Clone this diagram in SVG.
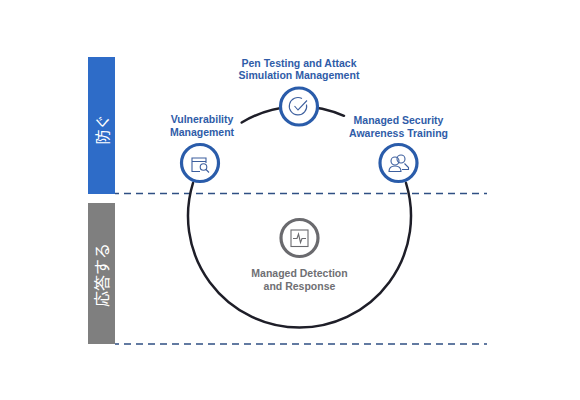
<svg xmlns="http://www.w3.org/2000/svg" width="580" height="400" viewBox="0 0 580 400">
<style>
.lb{font-family:"Liberation Sans",Arial,sans-serif;font-size:10.5px;font-weight:700;fill:#2f5ca8;text-anchor:middle}
.gr{fill:#6f6f73}
.ring{fill:#fff;stroke:#2a5caa;stroke-width:3.2}
.ic{fill:none;stroke:#3d5f9e;stroke-width:1.1}
.ig{fill:none;stroke:#6a6a6e;stroke-width:1.1}
.dash{fill:none;stroke:#2f4f83;stroke-width:1.5;stroke-dasharray:7 5;stroke-dashoffset:3}
.arc{fill:none;stroke:#1e1e28;stroke-width:2.5;stroke-linecap:round}
.side{font-family:"Noto Sans CJK JP","Liberation Sans",sans-serif;fill:#fff;text-anchor:middle}
</style>
<rect width="580" height="400" fill="#fff"/>
<g id="band-prevent"><rect x="88" y="57" width="27" height="137" fill="#2e6cc8"/>
<text class="side" font-size="15" transform="translate(102 129.500) rotate(-90)" y="5.500">防ぐ</text></g>
<g id="band-respond"><rect x="88" y="203" width="27" height="141" fill="#7f7f7f"/>
<text class="side" font-size="16" transform="translate(102 275) rotate(-90)" y="5.500">応答する</text></g>
<g id="connectors">
<path class="dash" d="M115 193.500H487"/>
<path class="dash" d="M115 344H487"/>
<path class="arc" d="M241.700 122.500A111.500 111.500 0 0 1 344 115.800"/>
<path class="arc" d="M193 183A111.500 111.500 0 1 0 406 183"/>
</g>
<g id="node-vulnerability">
<circle class="ring" cx="200" cy="163" r="18.500"/>
<path class="ic" d="M200 171.500H192V158H206V163M192 161.500H206"/>
<circle class="ic" cx="203.500" cy="167" r="3.300"/><path class="ic" d="M206 169.500L209 172.500"/>
<text class="lb"><tspan x="202" y="123">Vulnerability</tspan><tspan x="202" y="135.500">Management</tspan></text>
</g>
<g id="node-pen-testing">
<circle class="ring" cx="299" cy="106.500" r="18.500"/>
<path class="ic" d="M306.500 104.500A8.700 8.700 0 1 1 302 98.500"/>
<path class="ic" d="M294.500 106L298 110L307 100.500"/>
<text class="lb"><tspan x="299" y="66.500">Pen Testing and Attack</tspan><tspan x="299" y="79">Simulation Management</tspan></text>
</g>
<g id="node-awareness">
<circle class="ring" cx="398.500" cy="163" r="18.500"/>
<circle class="ic" cx="395" cy="161" r="4"/>
<circle class="ic" cx="401" cy="159" r="4"/>
<path class="ic" d="M389 171.500C389 167 392 166 395 166C398 166 401 167 401 171.500ZM404.500 163.500L408.500 167.500V169.500H402"/>
<text class="lb"><tspan x="398.500" y="124">Managed Security</tspan><tspan x="398.500" y="136.500">Awareness Training</tspan></text>
</g>
<g id="node-detection">
<circle cx="299.500" cy="238" r="18.500" fill="#fff" stroke="#6a6a6e" stroke-width="3.200"/>
<rect class="ig" x="291" y="230" width="17" height="16.500"/>
<path class="ig" d="M293 238.500H297L298.500 234L300.500 242.500L302 238.500H306"/>
<text class="lb gr"><tspan x="299.500" y="277">Managed Detection</tspan><tspan x="299.500" y="289.500">and Response</tspan></text>
</g>
</svg>
